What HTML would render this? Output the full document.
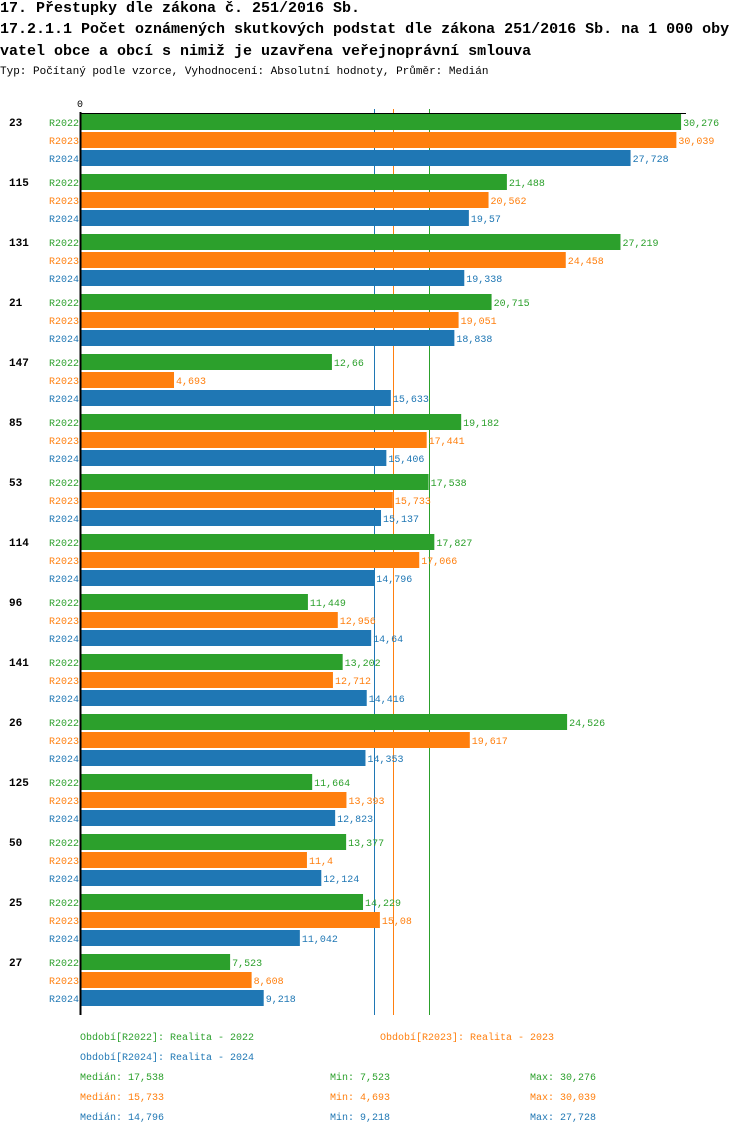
<!DOCTYPE html>
<html><head><meta charset="utf-8"><style>
body{margin:0;background:#fff;width:750px;height:1134px;overflow:hidden;font-family:"Liberation Mono",monospace}
.t{position:absolute;left:0;white-space:nowrap;font-weight:bold;font-size:15px;color:#000}
.s{position:absolute;white-space:nowrap;font-size:11px}
</style></head><body>
<div class="t" style="top:0">17. Přestupky dle zákona č. 251/2016 Sb.</div>
<div class="t" style="top:21px">17.2.1.1 Počet oznámených skutkových podstat dle zákona 251/2016 Sb. na 1 000 oby</div>
<div class="t" style="top:43px">vatel obce a obcí s nimiž je uzavřena veřejnoprávní smlouva</div>
<div class="s" style="left:0;top:66px">Typ: Počítaný podle vzorce, Vyhodnocení: Absolutní hodnoty, Průměr: Medián</div>
<svg id="c" width="750" height="1134" style="position:absolute;left:0;top:0"></svg>
<script>
const categories=["23","115","131","21","147","85","53","114","96","141","26","125","50","25","27"];
const series=["R2022","R2023","R2024"];
const r2022=[30.276,21.488,27.219,20.715,12.66,19.182,17.538,17.827,11.449,13.202,24.526,11.664,13.377,14.229,7.523];
const r2023=[30.039,20.562,24.458,19.051,4.693,17.441,15.733,17.066,12.956,12.712,19.617,13.393,11.4,15.08,8.608];
const r2024=[27.728,19.57,19.338,18.838,15.633,15.406,15.137,14.796,14.64,14.416,14.353,12.823,12.124,11.042,9.218];
const medians=[17.538,15.733,14.796];
const mins=[7.523,4.693,9.218];
const maxs=[30.276,30.039,27.728];
const colors=["#2ca02c","#ff7f0e","#1f77b4"];
const vals=[r2022,r2023,r2024];
const svg=document.getElementById('c');
const NS='http://www.w3.org/2000/svg';
const x0=81,k=19.82;
const xs=v=>x0+v*k;
const fmt=v=>String(v).replace('.',',');
function el(t,a,txt){const e=document.createElementNS(NS,t);for(const n in a)e.setAttribute(n,a[n]);if(txt!==undefined)e.textContent=txt;svg.appendChild(e);return e;}
const font='Liberation Mono, monospace';
medians.forEach((m,j)=>{
  const l=el('line',{x1:Math.round(xs(m))+0.5,x2:Math.round(xs(m))+0.5,y1:109,y2:1015,stroke:colors[j],'stroke-width':1});
  
  
});
const topAxis=el('line',{x1:80,x2:686,y1:113.5,y2:113.5,stroke:'#000','stroke-width':1});


categories.forEach((c,i)=>{
  const gy=114+i*60;
  const g=el('text',{x:9,y:gy+12,'font-size':11,'font-weight':'bold','font-family':font},c);
  
  
  series.forEach((s,j)=>{
    const y=gy+j*18;
    const l=el('text',{x:79,y:y+12,'font-size':10,'text-anchor':'end',fill:colors[j],'font-family':font},s);
    
    
    const v=vals[j][i];
    const r=el('rect',{x:x0,y:y,width:xs(v)-x0,height:16,fill:colors[j]});
    
    
    const t=el('text',{x:xs(v)+2,y:y+12,'font-size':10,fill:colors[j],'font-family':font},fmt(v));
    
    
  });
});
const ax=el('line',{x1:80.5,x2:80.5,y1:112,y2:1015,stroke:'#000','stroke-width':2});


const z=el('text',{x:80,y:107,'font-size':10,'text-anchor':'middle','font-family':font},'0');


const leg=[["Období[R2022]: Realita - 2022",80,1040],["Období[R2023]: Realita - 2023",380,1040],["Období[R2024]: Realita - 2024",80,1060]];
leg.forEach((L,j)=>{
  const t=el('text',{x:L[1],y:L[2],'font-size':10,fill:colors[j],'font-family':font},L[0]);
  
  
});
series.forEach((s,j)=>{
  const y=1080+j*20;
  const a=el('text',{x:80,y:y,'font-size':10,fill:colors[j],'font-family':font},'Medián: '+fmt(medians[j]));
  
  
  const b=el('text',{x:330,y:y,'font-size':10,fill:colors[j],'font-family':font},'Min: '+fmt(mins[j]));
  
  
  const c=el('text',{x:530,y:y,'font-size':10,fill:colors[j],'font-family':font},'Max: '+fmt(maxs[j]));
  
  
});
</script>
</body></html>
